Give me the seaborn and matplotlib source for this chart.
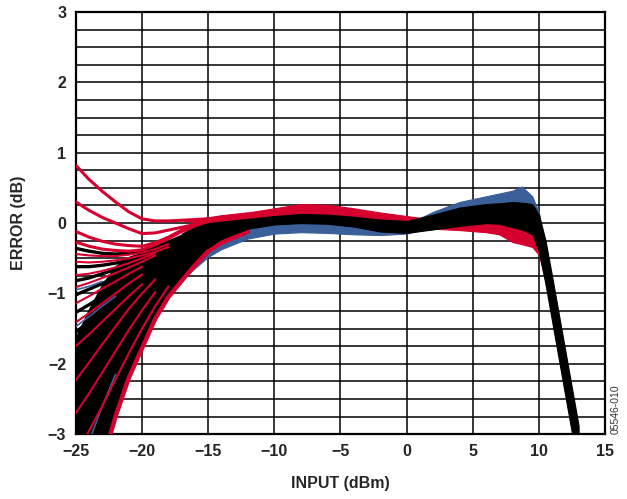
import numpy as np
import matplotlib
matplotlib.use("Agg")
import matplotlib.pyplot as plt
import seaborn as sns
from matplotlib.ticker import MultipleLocator

sns.set_style("white")
plt.rcParams["font.family"] = ["Liberation Sans", "DejaVu Sans"]

RED = "#D6002E"
BLUE = "#3B5F99"
nan = np.nan

# left fan
X_FAN = [-25, -24, -23, -22, -21, -20, -19, -18, -17, -16, -15, -14, -12]

red_top = [
    [0.82, 0.62, 0.45, 0.3, 0.16, 0.06, 0.03, 0.03, 0.04, 0.05, 0.06, 0.09, 0.13],
    [0.3, 0.18, 0.08, 0.0, -0.08, -0.15, -0.14, -0.1, -0.06, -0.02, 0.03, 0.06, 0.11],
    [-0.12, -0.2, -0.26, -0.3, -0.32, -0.33, -0.28, -0.2, -0.1, -0.03, 0.02, 0.05, 0.1],
    [-0.27, -0.33, -0.37, -0.39, -0.4, -0.38, -0.31, -0.22, -0.12, -0.05, 0.01, 0.04, 0.09],
]
red_fan = [
    [-0.44, -0.46, -0.47, -0.47, -0.45, -0.42, -0.37, -0.3, nan, nan, nan, nan, nan],
    [-0.55, -0.56, -0.55, -0.53, -0.5, -0.46, -0.41, -0.34, nan, nan, nan, nan, nan],
    [-0.74, -0.72, -0.68, -0.63, -0.57, -0.5, -0.43, nan, nan, nan, nan, nan, nan],
    [-0.91, -0.85, -0.78, -0.71, -0.63, -0.55, -0.46, nan, nan, nan, nan, nan, nan],
    [-1.14, -1.04, -0.93, -0.83, -0.72, -0.62, nan, nan, nan, nan, nan, nan, nan],
    [-1.41, -1.28, -1.14, -1.0, -0.86, -0.73, nan, nan, nan, nan, nan, nan, nan],
    [-1.75, -1.58, -1.4, -1.22, -1.04, -0.87, nan, nan, nan, nan, nan, nan, nan],
    [-2.23, -1.98, -1.72, -1.47, -1.22, -1.0, -0.8, nan, nan, nan, nan, nan, nan],
    [-2.7, -2.42, -2.12, -1.82, -1.52, -1.24, -0.98, nan, nan, nan, nan, nan, nan],
    [-3.3, -2.95, -2.6, -2.22, -1.85, -1.5, -1.18, -0.9, nan, nan, nan, nan, nan],
]
red_edge = [-5.0, -4.1, -3.4, -2.75, -2.2, -1.78, -1.36, -1.05, -0.82, -0.6, -0.4, -0.28, -0.12]

black_fan = [
    [-0.36, -0.4, -0.43, -0.44, -0.43, -0.4, -0.34, -0.27, -0.19, -0.11, -0.05, -0.01, 0.05],
    [-0.62, -0.62, -0.6, -0.57, -0.53, -0.47, -0.4, -0.32, -0.24, -0.16, -0.09, -0.04, 0.03],
    [-0.82, -0.78, -0.72, -0.66, -0.59, -0.52, -0.44, -0.36, -0.27, -0.18, -0.11, -0.05, 0.02],
    [-1.02, -0.94, -0.86, -0.77, -0.68, -0.59, -0.49, -0.4, -0.3, -0.21, -0.13, -0.07, 0.01],
    [-1.27, -1.16, -1.04, -0.92, -0.8, -0.68, -0.56, -0.45, -0.34, -0.24, -0.15, -0.08, 0.0],
    [-1.55, -1.4, -1.25, -1.1, -0.95, -0.8, -0.65, -0.51, -0.38, -0.27, -0.17, -0.1, -0.01],
    [-2.0, -1.8, -1.58, -1.37, -1.16, -0.96, -0.77, -0.6, -0.44, -0.31, -0.2, -0.12, -0.02],
    [-2.5, -2.24, -1.97, -1.7, -1.44, -1.18, -0.94, -0.72, -0.52, -0.36, -0.23, -0.13, -0.03],
]
fan_top = [-1.6, -1.2, -0.85, -0.6, -0.47, -0.41, -0.35, -0.27, -0.16, -0.08, -0.02, 0.0, 0.04]
fan_bot = [-3.3, -3.3, -3.3, -2.7, -2.15, -1.72, -1.3, -1.0, -0.77, -0.56, -0.37, -0.25, -0.1]

blue_fan = [
    [-0.95, -0.9, -0.83, nan, nan, nan, nan, nan, nan, nan, nan, nan, nan],
    [-1.47, -1.33, -1.18, -1.04, nan, nan, nan, nan, nan, nan, nan, nan, nan],
    [-3.6, -3.1, -2.6, -2.15, nan, nan, nan, nan, nan, nan, nan, nan, nan],
]

# bands on the right
BLUE_X = [-16.5, -16, -15, -14, -12, -10, -8, -6, -4, -2, 0, 2, 4, 6, 7, 8, 8.7, 9.5, 10, 10.4]
blue_hi = [-0.62, -0.5, -0.36, -0.25, -0.08, -0.02, 0.0, 0.0, -0.02, -0.03, -0.02, 0.16, 0.3, 0.38, 0.42, 0.46, 0.52, 0.38, 0.15, -0.3]
blue_lo = [-0.72, -0.64, -0.48, -0.37, -0.22, -0.15, -0.13, -0.14, -0.16, -0.17, -0.15, -0.05, 0.05, 0.1, 0.12, 0.15, 0.15, 0.1, -0.25, -0.6]

RED_X = [-17, -16, -15, -14, -12, -10, -8, -6, -4, -2, 0, 2, 4, 6, 7, 8, 8.7, 9.5, 10, 10.4, 10.8]
red_hi = [0.04, 0.06, 0.08, 0.1, 0.15, 0.21, 0.27, 0.26, 0.21, 0.15, 0.1, 0.05, 0.02, 0.0, -0.02, -0.06, -0.09, -0.16, -0.12, -0.3, -0.7]
red_lo = [0.04, 0.01, 0.0, 0.02, 0.06, 0.1, 0.13, 0.12, 0.09, 0.05, 0.02, -0.08, -0.1, -0.13, -0.16, -0.27, -0.3, -0.34, -0.45, -0.75, -1.1]

BLACK_X = [-17, -16, -15, -14, -12, -10, -8, -6, -4, -2, 0, 2, 4, 6, 7, 8, 8.7, 9.5, 10, 10.5, 11, 12, 13]
black_hi = [-0.15, -0.06, 0.0, 0.02, 0.06, 0.1, 0.13, 0.12, 0.09, 0.05, 0.03, 0.12, 0.22, 0.27, 0.28, 0.3, 0.29, 0.27, 0.12, -0.25, -0.76, -1.82, -2.88]
black_lo = [-0.15, -0.3, -0.35, -0.22, -0.08, -0.02, 0.0, -0.01, -0.05, -0.12, -0.14, -0.09, -0.04, 0.0, -0.01, -0.06, -0.09, -0.16, -0.4, -0.87, -1.4, -2.46, -3.52]

fig, ax = plt.subplots(figsize=(6.27, 4.99), dpi=100)
fig.subplots_adjust(left=0.121, right=0.965, bottom=0.130, top=0.976)

ax.fill_between(BLUE_X, blue_lo, blue_hi, color=BLUE, lw=0.8, ec=BLUE, zorder=2)

ax.fill_between(X_FAN, fan_bot, fan_top, color="black", lw=0, zorder=5)
for ys in black_fan:
    sns.lineplot(x=X_FAN, y=ys, color="black", lw=2.4, ax=ax, zorder=6)
for ys in blue_fan:
    sns.lineplot(x=X_FAN, y=ys, color=BLUE, lw=1.2, ax=ax, zorder=7)
for ys in red_fan:
    sns.lineplot(x=X_FAN, y=ys, color=RED, lw=1.5, ax=ax, zorder=8)
for ys in red_top:
    sns.lineplot(x=X_FAN, y=ys, color=RED, lw=2.2, ax=ax, zorder=8)
sns.lineplot(x=X_FAN, y=red_edge, color=RED, lw=3.2, ax=ax, zorder=8)

ax.fill_between(RED_X, red_lo, red_hi, color=RED, lw=0.8, ec=RED, zorder=9)
ax.fill_between(BLACK_X, black_lo, black_hi, color="black", lw=0.8, ec="black", zorder=10)

ax.set_xlim(-25, 15)
ax.set_ylim(-3, 3)
ax.xaxis.set_major_locator(MultipleLocator(5))
ax.yaxis.set_major_locator(MultipleLocator(1))
ax.yaxis.set_minor_locator(MultipleLocator(0.25))
ax.grid(True, which="major", color="black", lw=1.1, zorder=1)
ax.grid(True, which="minor", axis="y", color="black", lw=1.1, zorder=1)
ax.set_axisbelow(True)
ax.tick_params(which="both", length=0, pad=7, labelsize=11.5)
for lab in ax.get_xticklabels() + ax.get_yticklabels():
    lab.set_fontweight("bold")
for sp in ax.spines.values():
    sp.set_color("black")
    sp.set_linewidth(1.6)

ax.set_xlabel("INPUT (dBm)", fontsize=11.5, fontweight="bold", labelpad=12)
ax.set_ylabel("ERROR (dB)", fontsize=11.5, fontweight="bold", labelpad=16)
fig.text(0.99, 0.18, "05546-010", rotation=90, fontsize=7.5, ha="right", va="center", color="#333333")

fig.savefig("out.png", dpi=100)
